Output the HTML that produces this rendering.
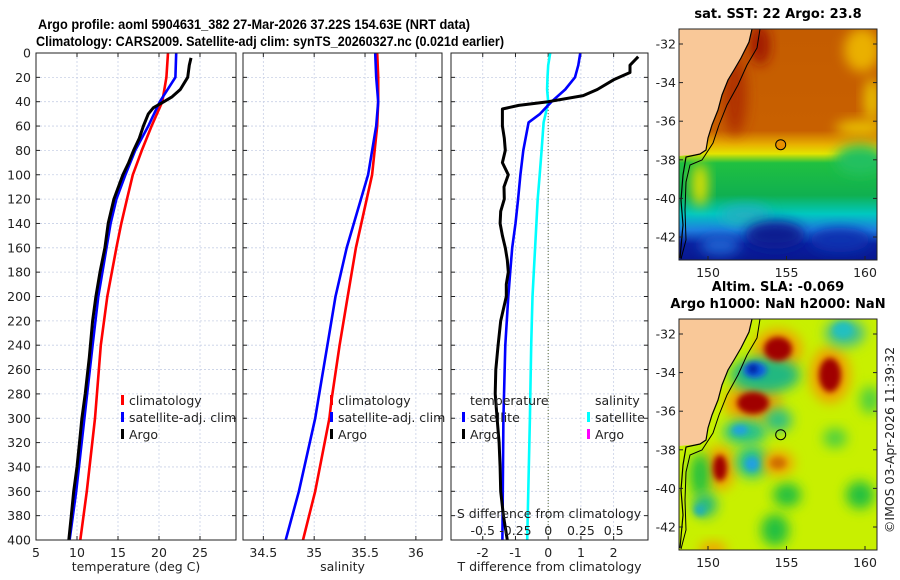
<!DOCTYPE html>
<html><head><meta charset="utf-8"><style>
html,body{margin:0;padding:0;background:#fff;}
svg{display:block;font-family:"DejaVu Sans","Liberation Sans",sans-serif;}
</style></head><body>
<svg id="fig" width="900" height="580" viewBox="0 0 900 580">
<defs>
<filter id="blur" x="-50%" y="-50%" width="200%" height="200%"><feGaussianBlur stdDeviation="6"/></filter>
<filter id="blur2" x="-50%" y="-50%" width="200%" height="200%"><feGaussianBlur stdDeviation="3"/></filter>
<clipPath id="clipTop"><rect x="679" y="29" width="198" height="231"/></clipPath>
<clipPath id="clipBot"><rect x="679" y="319" width="198" height="231"/></clipPath>
</defs>
<text x="254" y="29" font-size="13.5" font-weight="bold" text-anchor="middle" textLength="432" lengthAdjust="spacingAndGlyphs" style="font-family:'Liberation Sans',sans-serif">Argo profile: aoml 5904631_382 27-Mar-2026 37.22S 154.63E (NRT data)</text>
<text x="270" y="46" font-size="13.5" font-weight="bold" text-anchor="middle" textLength="468" lengthAdjust="spacingAndGlyphs" style="font-family:'Liberation Sans',sans-serif">Climatology: CARS2009. Satellite-adj clim: synTS_20260327.nc (0.021d earlier)</text>
<g id="panels"></g>
<g id="maps"></g>
<text transform="translate(894,440) rotate(-90)" font-size="12.5" text-anchor="middle" fill="#222">©IMOS 03-Apr-2026 11:39:32</text>
</svg>
<script>
// ---- data ----
const depthClimT = [0,20,40,60,80,100,120,140,160,200,240,300,360,400];
const tempClim =   [21.1,20.9,20.4,19.1,17.9,16.8,16.1,15.4,14.8,13.7,12.9,12.2,11.2,10.4];
const tempSat =    [22.1,22.0,20.1,18.7,17.1,15.9,14.8,14.1,13.6,12.6,11.9,10.9,9.9,9.1];
const depthArgo =  [4,10,20,30,36,40,45,50,60,70,80,90,100,120,140,160,180,200,220,250,280,300,320,340,360,380,400];
const tempArgo =   [23.9,23.7,23.5,22.6,21.6,20.6,19.3,18.7,18.1,17.6,16.9,16.3,15.6,14.5,13.8,13.4,12.8,12.3,11.9,11.5,11.0,10.6,10.3,10.0,9.6,9.3,9.0];
const depthS =     [0,20,40,60,100,160,200,240,285,300,360,400];
const salClim =    [35.62,35.63,35.63,35.62,35.57,35.41,35.33,35.25,35.17,35.15,35.01,34.89];
const salSat =     [35.60,35.61,35.63,35.61,35.53,35.32,35.21,35.13,35.04,35.01,34.85,34.72];
const depthDiff =  [0,10,20,30,40,50,57,80,100,120,140,160,180,200,240,300,400];
const tDiffSat =   [0.98,0.92,0.82,0.52,0.1,-0.25,-0.6,-0.76,-0.85,-0.92,-1.0,-1.1,-1.16,-1.22,-1.31,-1.37,-1.40];
const sDiffSat =   [0.015,0.0,-0.005,-0.008,0,-0.02,-0.035,-0.05,-0.065,-0.08,-0.09,-0.1,-0.11,-0.12,-0.13,-0.14,-0.16];
const depthDiffArgo=[3,10,16,22,30,35,40,43,46,55,60,70,80,90,100,110,120,130,140,150,160,170,180,190,200,220,240,260,280,300,320,340,360,380,400];
const tDiffArgo =  [2.75,2.5,2.5,2.0,1.5,1.07,0.0,-0.9,-1.4,-1.40,-1.40,-1.34,-1.31,-1.40,-1.22,-1.35,-1.34,-1.45,-1.47,-1.4,-1.31,-1.25,-1.22,-1.28,-1.28,-1.45,-1.53,-1.6,-1.62,-1.56,-1.5,-1.47,-1.45,-1.37,-1.25];
const depthTicks = [0,20,40,60,80,100,120,140,160,180,200,220,240,260,280,300,320,340,360,380,400];
const tempTicks = [5,10,15,20,25];
const salTicks = [34.5,35,35.5,36];
const tDiffTicks = [-2,-1,0,1,2];
const sDiffTickLabels = ["-0.5","-0.25","0","0.25","0.5"];
const sDiffTicks = [-0.5,-0.25,0,0.25,0.5];
const lonTicks = [150,155,160];
const latTicks = [-32,-34,-36,-38,-40,-42];

const NS='http://www.w3.org/2000/svg';
function mk(tag,attrs,parent,text){const e=document.createElementNS(NS,tag);for(const k in attrs)e.setAttribute(k,attrs[k]);if(text!==undefined)e.textContent=text;parent.appendChild(e);return e;}
const Y0=53,Y1=540;
const yD=d=>Y0+(d/400)*(Y1-Y0);
const panels=document.getElementById('panels');

function panel(name,x0,x1,dmin,dmax,ticks,tickLabels,xlabel,showY){
  const g=mk('g',{},panels);
  
  
  const xs=v=>x0+(v-dmin)/(dmax-dmin)*(x1-x0);
  mk('rect',{x:x0,y:Y0,width:x1-x0,height:Y1-Y0,fill:'#fff'},g);
  depthTicks.forEach(d=>{
    const l=mk('line',{x1:x0,x2:x1,y1:yD(d),y2:yD(d),stroke:'#c8d0e6','stroke-dasharray':'2,2','stroke-width':0.8},g);
    
    
    mk('line',{x1:x0,x2:x0+4,y1:yD(d),y2:yD(d),stroke:'#222'},g);
    mk('line',{x1:x1-4,x2:x1,y1:yD(d),y2:yD(d),stroke:'#222'},g);
    if(showY){const t=mk('text',{x:x0-5,y:yD(d)+4.5,'font-size':12.5,'text-anchor':'end',fill:'#222'},g,String(d));
      
      }
  });
  ticks.forEach((v,i)=>{
    const l=mk('line',{x1:xs(v),x2:xs(v),y1:Y0,y2:Y1,stroke:'#c8d0e6','stroke-dasharray':'2,2','stroke-width':0.8},g);
    
    
    mk('line',{x1:xs(v),x2:xs(v),y1:Y1,y2:Y1-4,stroke:'#222'},g);
    mk('line',{x1:xs(v),x2:xs(v),y1:Y0,y2:Y0+4,stroke:'#222'},g);
    const t=mk('text',{x:xs(v),y:Y1+17,'font-size':12.5,'text-anchor':'middle',fill:'#222'},g,tickLabels[i]);
    
    
  });
  const xl=mk('text',{x:(x0+x1)/2,y:571,'font-size':12.5,'text-anchor':'middle',fill:'#222'},g,xlabel);
  
  
  return {g,xs};
}
function line(g,xs,vals,depths,color,name,w){
  const pts=vals.map((v,i)=>xs(v).toFixed(1)+','+yD(depths[i]).toFixed(1)).join(' ');
  const p=mk('polyline',{points:pts,fill:'none',stroke:color,'stroke-width':w||2.6,'stroke-linejoin':'round'},g);
  
  
}
function legend(g,x,y,color,label,name){
  const le=mk('g',{},g);
  
  
  mk('rect',{x:x,y:y-10,width:3,height:10,fill:color},le);
  mk('text',{x:x+8,y:y,'font-size':12.5,fill:'#222'},le,label);
}
function frame(g,x0,x1){mk('rect',{x:x0,y:Y0,width:x1-x0,height:Y1-Y0,fill:'none',stroke:'#222','stroke-width':1},g);}

// panel 1
const P1=panel('temperature',36,236,5,5+200/8.2,tempTicks,tempTicks.map(String),'temperature (deg C)',true);
line(P1.g,P1.xs,tempClim,depthClimT,'#ff0000','temp-climatology-line');
line(P1.g,P1.xs,tempSat,depthClimT,'#0000ff','temp-satellite-line');
line(P1.g,P1.xs,tempArgo,depthArgo,'#000','temp-argo-line',3);
legend(P1.g,121,405,'#f00','climatology','legend-climatology');
legend(P1.g,121,422,'#00f','satellite-adj. clim','legend-satellite');
legend(P1.g,121,439,'#000','Argo','legend-argo');
frame(P1.g,36,236);

// panel 2
const P2=panel('salinity',243,442,34.3,36.257,salTicks,salTicks.map(String),'salinity',false);
line(P2.g,P2.xs,salClim,depthS,'#ff0000','sal-climatology-line');
line(P2.g,P2.xs,salSat,depthS,'#0000ff','sal-satellite-line');
legend(P2.g,330,405,'#f00','climatology','legend-climatology');
legend(P2.g,330,422,'#00f','satellite-adj. clim','legend-satellite');
legend(P2.g,330,439,'#000','Argo','legend-argo');
frame(P2.g,243,442);

// panel 3
const P3=panel('difference',451,648,-2.97,3.05,tDiffTicks,tDiffTicks.map(String),'T difference from climatology',false);
const xsS=v=>P3.xs(v*4);
const z=mk('line',{x1:P3.xs(0),x2:P3.xs(0),y1:Y0,y2:Y1,stroke:'#5a6a3a','stroke-dasharray':'1,2','stroke-width':1},P3.g);


line(P3.g,xsS,sDiffSat,depthDiff,'#00ffff','sdiff-satellite-line');
line(P3.g,P3.xs,tDiffSat,depthDiff,'#0000ff','tdiff-satellite-line');
line(P3.g,P3.xs,tDiffArgo,depthDiffArgo,'#000','tdiff-argo-line',3);
const sl=mk('text',{x:549,y:518,'font-size':12.5,'text-anchor':'middle',fill:'#222'},P3.g,'S difference from climatology');


sDiffTicks.forEach((v,i)=>{const t=mk('text',{x:xsS(v),y:535,'font-size':12.5,'text-anchor':'middle',fill:'#222'},P3.g,sDiffTickLabels[i]);
  
  });
const th=mk('text',{x:470,y:405,'font-size':12.5,fill:'#222'},P3.g,'temperature');


const sh=mk('text',{x:595,y:405,'font-size':12.5,fill:'#222'},P3.g,'salinity');


legend(P3.g,462,422,'#00f','satellite','legend-t-satellite');
legend(P3.g,462,439,'#000','Argo','legend-t-argo');
legend(P3.g,587,422,'#00ffff','satellite','legend-s-satellite');
legend(P3.g,587,439,'#ff00ff','Argo','legend-s-argo');
frame(P3.g,451,648);

// ---- maps ----
const maps=document.getElementById('maps');
const lonX=lon=>708+(lon-150)*15.7;
const coast=[[679,29],[752,29],[749,42],[741,58],[734,70],[728,80],[722,95],[718,110],[712,125],[708,138],[706,150],[700,154],[679,156]];
const coastLine=[[752,29],[749,42],[741,58],[734,70],[728,80],[722,95],[718,110],[712,125],[708,138],[706,150],[700,154],[686,157],[683,175],[681,200],[683,225],[680,258]];
const shelf=[[760,29],[757,48],[747,65],[738,85],[727,105],[719,125],[713,143],[702,160],[690,165],[686,182],[685,210],[686,240],[681,259]];
function pts(a,dy){return a.map(p=>p[0]+','+(p[1]+dy)).join(' ');}
function mapAxes(g,top,title,titles){
  const latY=lat=>top+15+(-32-lat)*19.3;
  titles.forEach((t,i)=>{const tt=mk('text',{x:778,y:top-11-(titles.length-1-i)*17,'font-size':13,'font-weight':'bold','text-anchor':'middle'},g,t);
    
    });
  latTicks.forEach(l=>{mk('line',{x1:873,x2:877,y1:latY(l),y2:latY(l),stroke:'#222'},g);
    mk('line',{x1:679,x2:683,y1:latY(l),y2:latY(l),stroke:'#222'},g);
    const t=mk('text',{x:676,y:latY(l)+4.5,'font-size':12.5,'text-anchor':'end',fill:'#222'},g,String(l));
    
    });
  lonTicks.forEach(l=>{mk('line',{x1:lonX(l),x2:lonX(l),y1:top+231,y2:top+227,stroke:'#222'},g);
    const t=mk('text',{x:lonX(l),y:top+248,'font-size':12.5,'text-anchor':'middle',fill:'#222'},g,String(l));
    
    });
  mk('rect',{x:679,y:top,width:198,height:231,fill:'none',stroke:'#222'},g);
}
function blobs(g,list,filter){list.forEach(b=>mk('ellipse',{cx:b[0],cy:b[1],rx:b[2],ry:b[3],fill:b[4],filter:'url(#'+(filter||'blur')+')'},g));}

// SST map
const gs=mk('g',{},maps);


const sc=mk('g',{'clip-path':'url(#clipTop)'},gs);
const grad=mk('linearGradient',{id:'sstg',x1:0,y1:29,x2:0,y2:260,gradientUnits:'userSpaceOnUse'},document.querySelector('defs'));
[[0,'#c45c00'],[0.44,'#c86000'],[0.5,'#e8b000'],[0.54,'#e4e400'],[0.58,'#20c040'],[0.72,'#10b050'],[0.8,'#00c8c0'],[0.87,'#1e80e0'],[0.93,'#0a20a0'],[1,'#081890']].forEach(s=>mk('stop',{offset:s[0],'stop-color':s[1]},grad));
mk('rect',{x:679,y:29,width:198,height:231,fill:'url(#sstg)'},sc);
blobs(sc,[[862,50,18,22,'#eab000'],[872,100,8,22,'#e8c000'],[860,128,25,8,'#e8c000'],[735,95,12,40,'#b03000'],[760,45,10,20,'#a01800'],
 [700,185,8,22,'#e0e000'],[745,215,25,10,'#20b0c0'],[860,160,25,15,'#20c060'],[775,235,30,14,'#0a1a90'],[840,240,30,12,'#1030b0'],[720,245,20,10,'#1e60d0']],'blur');
mk('polygon',{points:pts(coast,0),fill:'#f9c898'},sc);
mk('polyline',{points:pts(coastLine,0),fill:'none',stroke:'#000','stroke-width':1.2},sc);
mk('polyline',{points:pts(shelf,0),fill:'none',stroke:'#000','stroke-width':1},sc);
const m1=mk('circle',{cx:lonX(154.63),cy:144.7,r:5,fill:'#e89000',stroke:'#000','stroke-width':1},sc);


mapAxes(gs,29,'sst-map',['sat. SST: 22 Argo: 23.8']);

// SLA map
const ga=mk('g',{},maps);


const ac=mk('g',{'clip-path':'url(#clipBot)'},ga);
mk('rect',{x:679,y:319,width:198,height:231,fill:'#c8f000'},ac);
blobs(ac,[
 [778,349,24,20,'#f0a000'],[830,375,20,28,'#f0a000'],[753,403,28,20,'#f0a000'],[720,468,15,22,'#f0a000'],
 [765,375,35,18,'#20b880'],[745,432,22,12,'#20c090'],[752,462,16,16,'#20c090'],[778,420,14,12,'#30c080'],[845,333,20,14,'#40c090'],
 [700,475,10,22,'#20c040'],[705,505,12,12,'#20b880'],[787,495,14,12,'#20c040'],[860,495,14,14,'#20c040'],[775,530,14,16,'#20c040'],[835,438,12,10,'#50d040'],[870,400,10,14,'#50d040'],
 [778,463,16,12,'#f0a000'],[713,550,14,8,'#f0a000']],'blur');
blobs(ac,[[778,349,14,12,'#a00000'],[830,375,11,17,'#a00000'],[753,403,16,11,'#a00000'],[720,468,7,13,'#a00000'],[778,463,8,6,'#d07000'],
 [755,370,12,8,'#1060e0'],[753,369,5,5,'#0020a0'],[740,430,8,5,'#20a0e0'],[752,464,7,7,'#20a0e0'],[843,330,10,8,'#20c0c0'],[700,510,6,6,'#20b0b0']],'blur2');
mk('polygon',{points:pts(coast,290),fill:'#f9c898'},ac);
mk('polyline',{points:pts(coastLine,290),fill:'none',stroke:'#000','stroke-width':1.2},ac);
mk('polyline',{points:pts(shelf,290),fill:'none',stroke:'#000','stroke-width':1},ac);
const m2=mk('circle',{cx:lonX(154.63),cy:434.7,r:5,fill:'none',stroke:'#000','stroke-width':1},ac);


mapAxes(ga,319,'sla-map',['Altim. SLA: -0.069','Argo h1000: NaN h2000: NaN']);
</script>
</body></html>
